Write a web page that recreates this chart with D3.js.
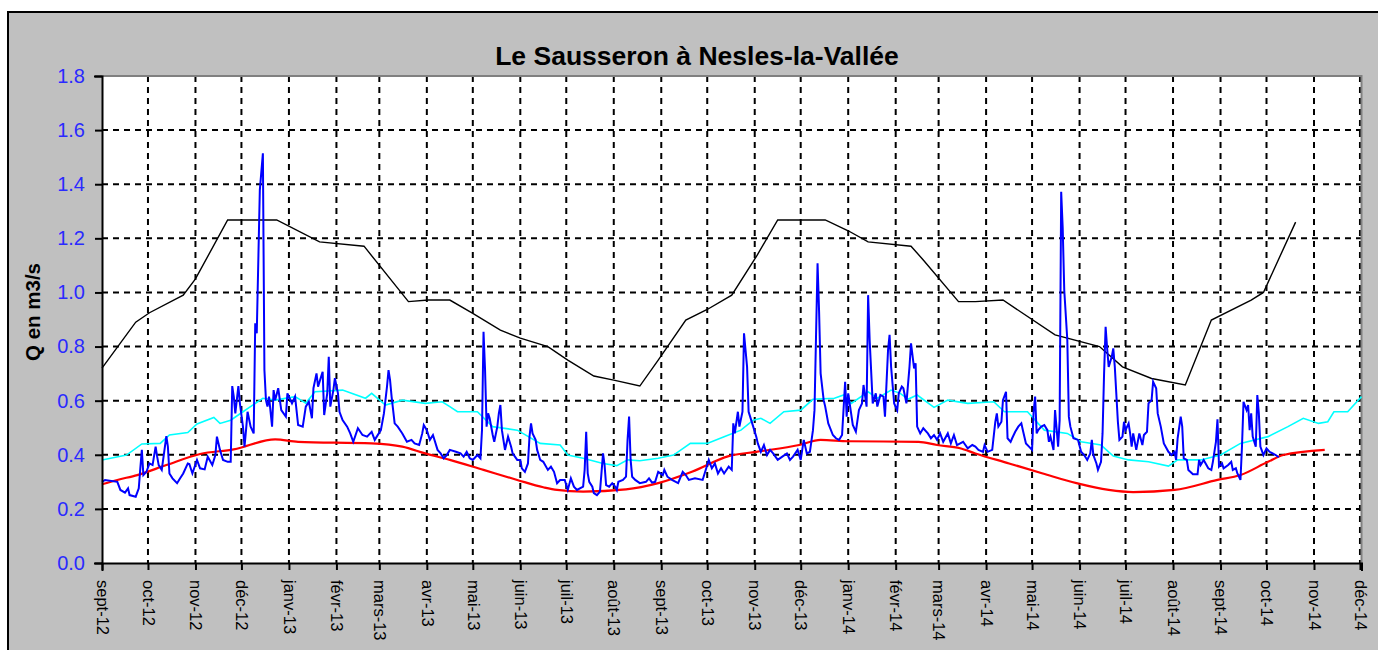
<!DOCTYPE html>
<html>
<head>
<meta charset="utf-8">
<script src="https://cdn.jsdelivr.net/npm/d3@7"></script>
<style>
  body { margin: 0; background: #fff; }
  text { font-family: Arial, "Liberation Sans", sans-serif; }
</style>
</head>
<body>
<div id="chart"></div>
<script>
// day offsets from 1 sept 2012 -> debit (m3/s)
const startDate = new Date(Date.UTC(2012, 8, 1));
const endDate = new Date(Date.UTC(2014, 11, 2));
const monthNames = ['janv', 'févr', 'mars', 'avr', 'mai', 'juin', 'juil', 'août', 'sept', 'oct', 'nov', 'déc'];
const yTicks = [0, 0.2, 0.4, 0.6, 0.8, 1.0, 1.2, 1.4, 1.6, 1.8];
const title = 'Le Sausseron à Nesles-la-Vallée';
const yLabel = 'Q en m3/s';

// daily flow (blue)
const flow = [
  [0,0.300],[2,0.307],[10,0.300],[12,0.270],[15,0.260],[17,0.276],[18,0.251],[22,0.245],[24,0.276],[25,0.350],
  [26,0.418],[27,0.325],[29,0.337],[31,0.368],[33,0.362],[35,0.430],[36,0.393],[37,0.362],[39,0.344],[42,0.469],
  [43,0.430],[44,0.331],[46,0.313],[49,0.295],[51,0.313],[53,0.331],[56,0.368],[57,0.366],[59,0.331],[62,0.381],
  [64,0.350],[67,0.346],[69,0.393],[72,0.362],[74,0.399],[75,0.467],[77,0.418],[79,0.381],[82,0.374],[84,0.374],
  [85,0.654],[86,0.615],[87,0.553],[89,0.654],[90,0.590],[92,0.504],[93,0.430],[94,0.491],[95,0.559],[97,0.504],
  [99,0.479],[100,0.886],[101,0.849],[103,1.378],[105,1.514],[106,0.713],[107,0.602],[108,0.578],[109,0.615],[111,0.504],
  [112,0.639],[113,0.602],[115,0.646],[117,0.565],[120,0.541],[121,0.627],[124,0.590],[126,0.615],[128,0.510],[131,0.504],
  [133,0.578],[135,0.596],[137,0.535],[138,0.646],[140,0.701],[141,0.652],[144,0.707],[145,0.547],[147,0.627],[148,0.762],
  [149,0.578],[151,0.639],[152,0.683],[154,0.627],[155,0.559],[157,0.528],[160,0.504],[162,0.479],[164,0.448],[167,0.498],
  [170,0.473],[173,0.467],[176,0.485],[178,0.455],[182,0.491],[184,0.553],[186,0.652],[187,0.713],[188,0.676],[189,0.615],
  [191,0.516],[193,0.504],[196,0.479],[199,0.448],[202,0.455],[204,0.442],[207,0.436],[209,0.479],[210,0.510],[212,0.491],
  [214,0.455],[216,0.473],[219,0.418],[221,0.405],[223,0.387],[225,0.399],[227,0.418],[231,0.411],[234,0.405],[236,0.393],
  [238,0.411],[240,0.387],[242,0.381],[245,0.399],[247,0.387],[248,0.491],[249,0.855],[250,0.713],[251,0.504],[252,0.553],
  [253,0.535],[255,0.473],[256,0.448],[258,0.504],[259,0.553],[260,0.584],[261,0.491],[263,0.418],[265,0.467],[267,0.430],
  [268,0.405],[271,0.381],[273,0.381],[274,0.350],[276,0.337],[278,0.368],[279,0.467],[280,0.516],[281,0.479],[283,0.455],
  [284,0.418],[286,0.381],[288,0.374],[291,0.344],[293,0.356],[295,0.337],[297,0.295],[299,0.307],[302,0.307],[304,0.270],
  [306,0.313],[308,0.282],[310,0.270],[314,0.282],[315,0.344],[316,0.485],[317,0.331],[318,0.300],[320,0.282],[321,0.258],
  [323,0.251],[325,0.264],[327,0.405],[328,0.362],[329,0.288],[331,0.282],[333,0.295],[335,0.282],[336,0.270],[337,0.300],
  [340,0.307],[342,0.319],[343,0.455],[344,0.541],[345,0.381],[346,0.319],[348,0.307],[351,0.295],[355,0.300],[357,0.313],
  [359,0.297],[361,0.300],[363,0.337],[366,0.325],[367,0.344],[369,0.319],[372,0.307],[376,0.295],[379,0.337],[381,0.325],
  [383,0.307],[387,0.313],[392,0.307],[394,0.344],[396,0.381],[398,0.350],[400,0.368],[402,0.331],[404,0.350],[406,0.331],
  [409,0.356],[411,0.344],[412,0.516],[413,0.479],[415,0.559],[416,0.504],[418,0.559],[419,0.849],[421,0.725],[422,0.559],
  [423,0.541],[425,0.504],[427,0.467],[428,0.442],[430,0.411],[432,0.436],[434,0.399],[436,0.418],[438,0.405],[441,0.381],
  [444,0.393],[447,0.405],[449,0.381],[451,0.393],[454,0.418],[456,0.381],[458,0.455],[460,0.405],[462,0.411],[464,0.491],
  [465,0.565],[466,0.836],[467,1.108],[468,0.929],[469,0.701],[471,0.602],[472,0.578],[474,0.516],[477,0.473],[479,0.461],
  [481,0.455],[483,0.473],[485,0.670],[486,0.541],[487,0.627],[490,0.510],[492,0.485],[494,0.565],[496,0.590],[497,0.658],
  [499,0.578],[500,0.990],[501,0.824],[503,0.590],[505,0.627],[506,0.578],[508,0.621],[510,0.615],[511,0.541],[513,0.787],
  [514,0.843],[515,0.725],[517,0.590],[519,0.565],[520,0.627],[522,0.652],[523,0.646],[525,0.590],[527,0.725],[528,0.812],
  [530,0.719],[531,0.738],[532,0.504],[534,0.479],[536,0.498],[539,0.479],[541,0.461],[543,0.473],[545,0.455],[547,0.479],
  [549,0.448],[552,0.479],[554,0.442],[556,0.473],[558,0.436],[562,0.448],[565,0.424],[568,0.436],[570,0.430],[572,0.418],
  [575,0.411],[576,0.436],[578,0.411],[581,0.418],[583,0.522],[584,0.553],[585,0.504],[587,0.522],[588,0.602],[590,0.633],
  [591,0.461],[593,0.448],[594,0.461],[596,0.485],[598,0.504],[600,0.516],[601,0.491],[603,0.442],[605,0.430],[607,0.418],
  [608,0.559],[609,0.615],[610,0.479],[611,0.491],[613,0.504],[615,0.510],[617,0.491],[618,0.448],[619,0.467],[621,0.418],
  [622,0.565],[624,0.430],[625,0.528],[626,1.372],[627,1.237],[628,1.009],[630,0.824],[631,0.541],[632,0.504],[634,0.461],
  [637,0.455],[639,0.411],[641,0.399],[643,0.381],[645,0.405],[646,0.455],[647,0.399],[649,0.368],[650,0.344],[652,0.374],
  [653,0.479],[654,0.701],[655,0.873],[656,0.793],[657,0.725],[659,0.762],[660,0.793],[661,0.725],[663,0.522],[664,0.455],
  [666,0.467],[667,0.522],[668,0.491],[670,0.516],[671,0.479],[672,0.430],[673,0.479],[675,0.418],[677,0.479],[679,0.436],
  [680,0.473],[682,0.485],[683,0.590],[685,0.602],[686,0.670],[688,0.646],[689,0.553],[691,0.504],[693,0.442],[696,0.411],
  [698,0.399],[700,0.411],[701,0.381],[702,0.461],[704,0.541],[705,0.504],[706,0.387],[708,0.381],[709,0.344],[712,0.328],
  [715,0.328],[716,0.381],[717,0.362],[719,0.381],[722,0.350],[724,0.344],[725,0.374],[727,0.448],[728,0.531],[729,0.356],
  [731,0.368],[732,0.350],[735,0.362],[737,0.374],[738,0.344],[740,0.350],[741,0.331],[743,0.307],[744,0.430],[745,0.596],
  [747,0.565],[748,0.584],[749,0.491],[750,0.553],[751,0.467],[753,0.430],[754,0.621],[755,0.553],[756,0.430],[758,0.399],
  [760,0.424],[762,0.411],[764,0.405],[766,0.399],[768,0.391]
];

// seasonal curves
const highRef = [
  [0,0.72],[22,0.89],[31,0.925],[53,0.99],[61,1.05],[82,1.268],[114,1.268],[142,1.187],[171,1.171],[200,0.966],
  [213,0.972],[227,0.972],[242,0.923],[260,0.861],[273,0.831],[291,0.80],[304,0.75],[321,0.691],[334,0.676],[351,0.654],
  [363,0.75],[381,0.898],[395,0.937],[411,0.99],[427,1.132],[441,1.268],[472,1.268],[487,1.228],[500,1.187],[528,1.171],
  [536,1.12],[559,0.966],[570,0.966],[588,0.972],[622,0.843],[651,0.80],[666,0.725],[685,0.682],[707,0.658],[724,0.898],
  [750,0.972],[758,1.0],[779,1.26]
];
const medRef = [
  [0,0.381],[16,0.399],[26,0.44],[38,0.442],[44,0.473],[56,0.482],[62,0.514],[73,0.538],[77,0.516],[84,0.528],
  [92,0.559],[105,0.609],[113,0.602],[126,0.615],[133,0.591],[139,0.633],[157,0.639],[172,0.609],[176,0.627],[185,0.584],
  [196,0.602],[211,0.590],[222,0.596],[227,0.578],[232,0.559],[245,0.559],[255,0.504],[271,0.491],[286,0.442],[299,0.436],
  [304,0.399],[314,0.387],[327,0.368],[336,0.360],[343,0.381],[351,0.378],[363,0.387],[373,0.399],[384,0.442],[395,0.442],
  [406,0.467],[417,0.491],[425,0.528],[430,0.535],[436,0.516],[445,0.559],[456,0.565],[464,0.605],[478,0.609],[484,0.621],
  [489,0.590],[500,0.633],[506,0.609],[515,0.639],[521,0.627],[526,0.605],[532,0.621],[543,0.575],[552,0.602],[565,0.590],
  [582,0.596],[589,0.559],[604,0.559],[615,0.491],[630,0.479],[639,0.448],[652,0.436],[660,0.395],[670,0.381],[683,0.374],
  [696,0.358],[702,0.381],[717,0.381],[730,0.399],[743,0.442],[761,0.467],[774,0.504],[784,0.535],[794,0.516],[800,0.522],
  [804,0.559],[813,0.559],[822,0.615]
];
const lowRef = [
  [0,0.291],[10,0.307],[23,0.325],[42,0.362],[64,0.403],[86,0.420],[113,0.457],[128,0.448],[176,0.442],[196,0.430],
  [211,0.405],[227,0.381],[249,0.344],[271,0.307],[288,0.280],[297,0.270],[314,0.264],[342,0.272],[363,0.295],[385,0.337],
  [409,0.395],[427,0.411],[455,0.436],[469,0.455],[487,0.450],[533,0.448],[545,0.436],[560,0.424],[570,0.405],[592,0.368],
  [614,0.331],[636,0.295],[657,0.270],[673,0.262],[700,0.270],[728,0.307],[743,0.325],[761,0.374],[771,0.399],[798,0.418]
];

let svgWidth = 1378;
let svgHeight = 650;
let plot = { left: 102, top: 76, right: 1361.5, bottom: 563 };

let svg = d3.select('#chart')
  .append('svg')
  .attr('width', svgWidth)
  .attr('height', svgHeight);

// grey chart area with black frame
svg.append('rect')
  .attr('x', 8).attr('y', 12)
  .attr('width', svgWidth + 10).attr('height', svgHeight + 10)
  .attr('fill', '#c0c0c0')
  .attr('stroke', '#000')
  .attr('stroke-width', 2);

let xScale = d3.scaleUtc()
  .domain([startDate, endDate])
  .range([plot.left, plot.right]);

let yScale = d3.scaleLinear()
  .domain([0, 1.8])
  .range([plot.bottom, plot.top]);

let dayToDate = d => d3.utcDay.offset(startDate, d);

svg.append('rect')
  .attr('x', plot.left).attr('y', plot.top)
  .attr('width', plot.right - plot.left).attr('height', plot.bottom - plot.top)
  .attr('fill', '#fff');

let months = d3.utcMonth.range(startDate, endDate);

// grid
let grid = svg.append('g').attr('stroke', '#000').attr('stroke-width', 2).attr('stroke-dasharray', '6,5');
grid.selectAll('.hgrid')
  .data(yTicks.filter(t => t > 0 && t < 1.8))
  .enter()
  .append('line')
  .attr('x1', plot.left).attr('x2', plot.right)
  .attr('y1', d => yScale(d)).attr('y2', d => yScale(d));
grid.selectAll('.vgrid')
  .data(months.slice(1))
  .enter()
  .append('line')
  .attr('x1', d => xScale(d)).attr('x2', d => xScale(d))
  .attr('y1', plot.top).attr('y2', plot.bottom);

// plot border: grey top/right
svg.append('path')
  .attr('d', `M${plot.left},${plot.top}H${plot.right}V${plot.bottom}`)
  .attr('fill', 'none')
  .attr('stroke', '#808080')
  .attr('stroke-width', 2);

// lines
let line = d3.line()
  .x(d => xScale(dayToDate(d[0])))
  .y(d => yScale(d[1]));

svg.append('path').datum(highRef)
  .attr('d', line).attr('fill', 'none').attr('stroke', '#000').attr('stroke-width', 1.4);
svg.append('path').datum(medRef)
  .attr('d', line).attr('fill', 'none').attr('stroke', '#00ffff').attr('stroke-width', 1.6);
svg.append('path').datum(lowRef)
  .attr('d', line.curve(d3.curveMonotoneX)).attr('fill', 'none').attr('stroke', '#ff0000').attr('stroke-width', 2.2);
line.curve(d3.curveLinear);
svg.append('path').datum(flow)
  .attr('d', line).attr('fill', 'none').attr('stroke', '#0000ff').attr('stroke-width', 2)
  .attr('stroke-linejoin', 'miter');

// axes
let bottomAxis = d3.axisBottom(xScale)
  .tickValues(months)
  .tickSize(7)
  .tickFormat(d => monthNames[d.getUTCMonth()] + '-' + String(d.getUTCFullYear()).slice(2));

let xAxis = svg.append('g')
  .attr('transform', `translate(0,${plot.bottom})`)
  .call(bottomAxis);
xAxis.select('.domain').attr('stroke', '#000').attr('stroke-width', 2);
xAxis.selectAll('.tick line').attr('stroke', '#000').attr('stroke-width', 2);
xAxis.selectAll('.tick text')
  .attr('transform', 'rotate(90)')
  .attr('x', 17).attr('y', 0).attr('dy', '0.35em')
  .style('text-anchor', 'start')
  .attr('fill', '#000')
  .attr('font-size', 16.5);

let leftAxis = d3.axisLeft(yScale)
  .tickValues(yTicks)
  .tickSize(7)
  .tickFormat(d3.format('.1f'));

let yAxis = svg.append('g')
  .attr('transform', `translate(${plot.left},0)`)
  .call(leftAxis);
yAxis.select('.domain').attr('stroke', '#000').attr('stroke-width', 2);
yAxis.selectAll('.tick line').attr('stroke', '#000').attr('stroke-width', 2);
yAxis.selectAll('.tick text')
  .attr('x', -17)
  .attr('fill', '#2a2aff')
  .attr('font-size', 20);
svg.selectAll('.domain').attr('stroke-linecap', 'square');

svg.append('text')
  .attr('x', 697).attr('y', 65)
  .style('text-anchor', 'middle')
  .attr('font-size', 26.5)
  .attr('font-weight', 700)
  .text(title);

svg.append('text')
  .attr('transform', 'rotate(-90)')
  .attr('x', -312).attr('y', 40)
  .style('text-anchor', 'middle')
  .attr('font-size', 20.5)
  .attr('font-weight', 700)
  .text(yLabel);
</script>
</body>
</html>
